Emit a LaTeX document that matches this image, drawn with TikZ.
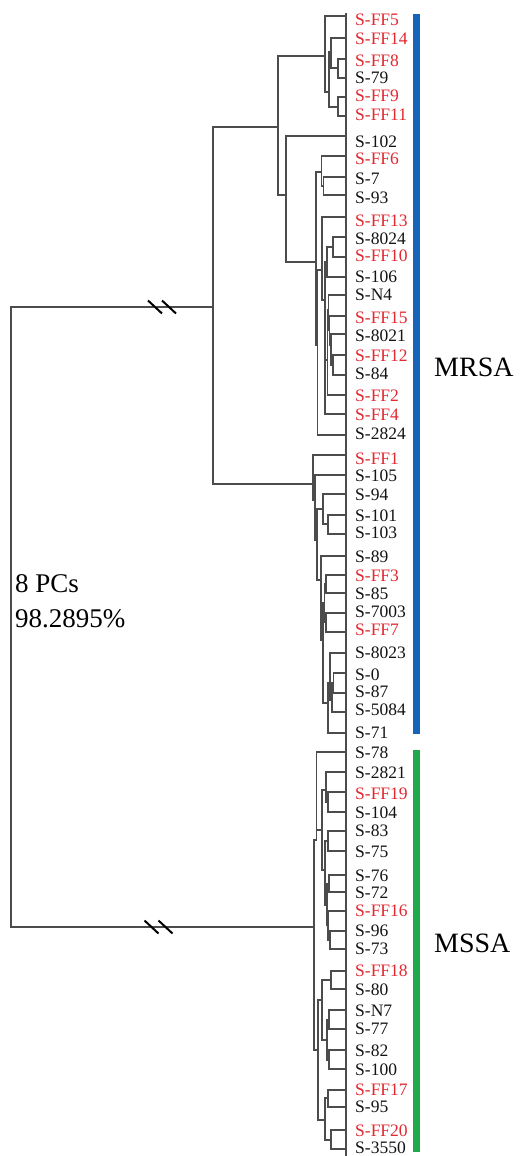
\documentclass[tikz,border=0pt]{standalone}
\usepackage{fontspec}
\setmainfont{Liberation Serif}
\usetikzlibrary{calc}
\definecolor{ffred}{RGB}{226,40,48}
\definecolor{lblack}{RGB}{20,20,20}
\definecolor{mrsablue}{RGB}{22,100,185}
\definecolor{mssagreen}{RGB}{30,170,75}
\tikzset{
  tree/.style={draw=black!70, line width=1.2pt},
  lbl/.style={inner sep=0pt, anchor=west, font=\fontsize{17.5}{20}\selectfont},
  big/.style={inner sep=0pt, font=\fontsize{28}{32}\selectfont},
  brk/.style={draw=black, line width=2pt},
}
\begin{document}
\begin{tikzpicture}[x=1pt, y=-1pt]
\useasboundingbox (0,0) rectangle (521,1156);
\fill[white] (0,0) rectangle (521,1156);
% leaves: index / line y / text y / label / colour
\foreach \n/\ly/\ty/\t/\c in {
 1/16/20/S-FF5/ffred, 2/38/38.5/S-FF14/ffred, 3/59/61/S-FF8/ffred, 4/78/77.5/S-79/lblack,
 5/97/96/S-FF9/ffred, 6/116/115/S-FF11/ffred, 7/136/142/S-102/lblack, 8/156/159/S-FF6/ffred,
 9/177/179/S-7/lblack, 10/195/197.5/S-93/lblack, 11/217/220.5/S-FF13/ffred, 12/237/239/S-8024/lblack,
 13/257/256/S-FF10/ffred, 14/277/277/S-106/lblack, 15/295/295/S-N4/lblack, 16/316/317.5/S-FF15/ffred,
 17/334/336/S-8021/lblack, 18/355/355.5/S-FF12/ffred, 19/375/374/S-84/lblack, 20/395/395.5/S-FF2/ffred,
 21/414/414.5/S-FF4/ffred, 22/435/433.5/S-2824/lblack, 23/455/459/S-FF1/ffred, 24/475/476/S-105/lblack,
 25/494/495/S-94/lblack, 26/515/516/S-101/lblack, 27/534/533/S-103/lblack, 28/556/557/S-89/lblack,
 29/575/576/S-FF3/ffred, 30/593/594/S-85/lblack, 31/613/612/S-7003/lblack, 32/632/630/S-FF7/ffred,
 33/653/653/S-8023/lblack, 34/673/675/S-0/lblack, 35/693/691.5/S-87/lblack, 36/712/710/S-5084/lblack,
 37/733/733/S-71/lblack, 38/752/752.5/S-78/lblack, 39/772/772.5/S-2821/lblack, 40/792/794/S-FF19/ffred,
 41/812/812.5/S-104/lblack, 42/831/831/S-83/lblack, 43/851/852/S-75/lblack, 44/875/875.5/S-76/lblack,
 45/892/892.5/S-72/lblack, 46/911/910.5/S-FF16/ffred, 47/931/931/S-96/lblack, 48/949/949/S-73/lblack,
 49/971/971/S-FF18/ffred, 50/989/989.5/S-80/lblack, 51/1010/1010.5/S-N7/lblack, 52/1029/1029/S-77/lblack,
 53/1050/1051/S-82/lblack, 54/1069/1069.5/S-100/lblack, 55/1090/1090/S-FF17/ffred, 56/1107/1107/S-95/lblack,
 57/1130/1130.5/S-FF20/ffred, 58/1149/1147.5/S-3550/lblack}{
  \coordinate (l\n) at (346,\ly);
  \node[lbl, text=\c] (t\n) at (355,\ty) {\t};
}
% internal nodes
\coordinate (R) at (11,617);
\coordinate (M) at (213,307);
\coordinate (X) at (314,927);
\coordinate (U) at (278,127);
\coordinate (B) at (313,484);
\coordinate (T) at (325,56);
\coordinate (T2) at (329,92);
\coordinate (T3) at (331,52);
\coordinate (T4) at (338,107);
\coordinate (T5) at (338,68);
\coordinate (V) at (286,195);
\coordinate (W) at (316,262);
\coordinate (G2) at (321.5,172);
\coordinate (G1) at (323.5,186);
\coordinate (W2) at (317.5,345);
\coordinate (h10) at (322,270);
\coordinate (hL) at (325,300);
\coordinate (hF) at (327,262);
\coordinate (hA) at (333,247);
\coordinate (hK) at (327.5,360);
\coordinate (hE) at (328.5,310);
\coordinate (hD) at (329.5,330);
\coordinate (hC) at (331,345);
\coordinate (hB) at (333,365);
\coordinate (B1) at (315,500);
\coordinate (B2) at (317,540);
\coordinate (q2) at (323,509);
\coordinate (q1) at (328,524);
\coordinate (B3) at (321,580);
\coordinate (s2) at (323,640);
\coordinate (s1) at (324.5,603);
\coordinate (s1a) at (326,584);
\coordinate (s1b) at (326,622);
\coordinate (r4) at (328,703);
\coordinate (r3) at (330,683);
\coordinate (r2) at (332,700);
\coordinate (r1) at (333.5,683);
\coordinate (P) at (316.5,840);
\coordinate (Q) at (318,1050);
\coordinate (m9) at (322,830);
\coordinate (m2) at (326,790);
\coordinate (m1) at (328,802);
\coordinate (m5) at (325,870);
\coordinate (m3) at (328,841);
\coordinate (m8) at (327,905);
\coordinate (m4) at (329,884);
\coordinate (m7) at (328,925);
\coordinate (m6) at (330,940);
\coordinate (n5) at (322,1000);
\coordinate (n1) at (331,980);
\coordinate (n4) at (327,1040);
\coordinate (n2) at (329,1020);
\coordinate (n3) at (329,1060);
\coordinate (n8) at (325,1120);
\coordinate (n6) at (328,1098);
\coordinate (n7) at (331,1140);
% connectors
\foreach \p/\ch in {R/M, R/X, M/U, M/B, U/T, U/V, T/l1, T/T2, T2/T3, T2/T4, T3/l2, T3/T5,
  T5/l3, T5/l4, T4/l5, T4/l6, V/l7, V/W, W/G2, W/W2, G2/l8, G2/G1, G1/l9, G1/l10,
  W2/h10, W2/l22, h10/l11, h10/hL, hL/hF, hL/hK, hL/l21, hF/hA, hF/l14, hA/l12, hA/l13,
  hK/hE, hK/l20, hE/l15, hE/hD, hD/l16, hD/hC, hC/l17, hC/hB, hB/l18, hB/l19,
  B/l23, B/B1, B1/l24, B1/B2, B2/q2, B2/B3, q2/l25, q2/q1, q1/l26, q1/l27,
  B3/l28, B3/s2, s2/s1, s2/r4, s1/s1a, s1/s1b, s1a/l29, s1a/l30, s1b/l31, s1b/l32,
  r4/r3, r4/l37, r3/l33, r3/r2, r2/r1, r2/l36, r1/l34, r1/l35,
  X/P, X/Q, P/l38, P/m9, m9/m2, m9/m5, m2/l39, m2/m1, m1/l40, m1/l41,
  m5/m3, m5/m8, m3/l42, m3/l43, m8/m4, m8/m7, m4/l44, m4/l45, m7/l46, m7/m6, m6/l47, m6/l48,
  Q/n5, Q/n8, n5/n1, n5/n4, n1/l49, n1/l50, n4/n2, n4/n3, n2/l51, n2/l52, n3/l53, n3/l54,
  n8/n6, n8/n7, n6/l55, n6/l56, n7/l57, n7/l58}{
  \draw[tree] (\p) |- (\ch);
}
% leaf-end line
\coordinate (axtop) at (346,13);
\coordinate (axbot) at (346,1156);
\draw[tree] (axtop) -- (axbot);
% break marks
\coordinate (brkA) at (162,307);
\coordinate (brkB) at (158.5,927);
\foreach \b in {brkA, brkB}{
  \draw[brk] ($(\b)+(-14,-6.5)$) -- ($(\b)+(0,6.5)$);
  \draw[brk] ($(\b)+(0,-6.5)$) -- ($(\b)+(14,6.5)$);
}
% group bars
\fill[mrsablue] (413,14) rectangle (420,734);
\fill[mssagreen] (413,750) rectangle (420,1152);
\node[big, anchor=west] (mrsa) at (434,367) {MRSA};
\node[big, anchor=west] (mssa) at (434,943) {MSSA};
\node[big, anchor=base west, font=\fontsize{27}{32}\selectfont] (pc1) at (15,592) {8 PCs};
\node[big, anchor=base west, font=\fontsize{27}{32}\selectfont] (pc2) at (15,627) {98.2895\%};
\end{tikzpicture}
\end{document}
